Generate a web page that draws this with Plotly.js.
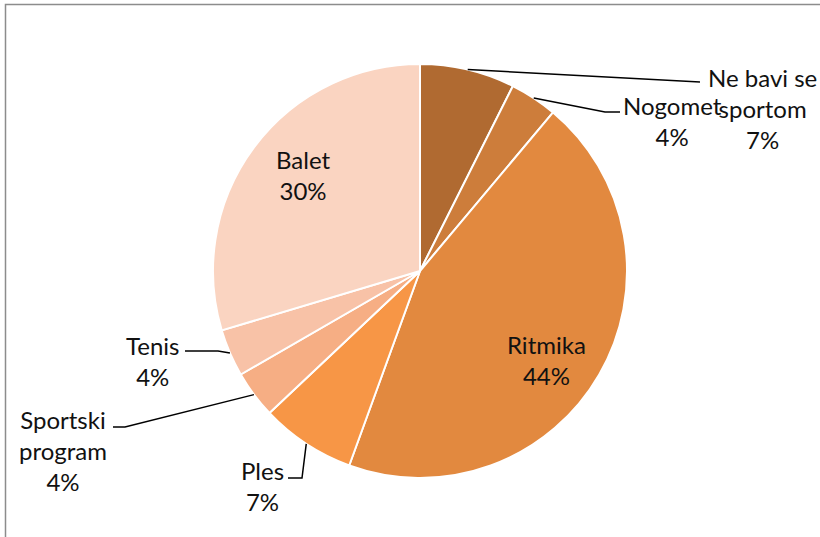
<!DOCTYPE html>
<html>
<head>
<meta charset="utf-8">
<script src="https://cdn.plot.ly/plotly-3.0.1.min.js"></script>
<style>html,body{margin:0;padding:0;background:#fff;}#chart{width:820px;height:537px;}</style>
</head>
<body>
<div id="chart"></div>
<script>
const categories = ["Ne bavi se sportom", "Nogomet", "Ritmika", "Ples", "Sportski program", "Tenis", "Balet"];
const labelTexts = ["Ne bavi se<br>sportom<br>7%", "Nogomet<br>4%", "Ritmika<br>44%", "Ples<br>7%", "Sportski<br>program<br>4%", "Tenis<br>4%", "Balet<br>30%"];
const values = [2, 1, 12, 2, 1, 1, 8];
const colors = ["#B06A31", "#CD7D3B", "#E2893F", "#F79646", "#F6AE84", "#F8C2A7", "#FAD4C1"];

const W = 820, H = 537;
const cx = 420, cy = 271, R = 207;
const dom = {x: [(cx - R) / W, (cx + R) / W], y: [1 - (cy + R) / H, 1 - (cy - R) / H]};

// label layout: [centerX, centerY, elbowX, elbowY, endX, endY] in pixels (null = inside label)
const labelPos = [
  [762, 108, null, null, 700, 82],
  [672, 121, 605, 112, 620, 112],
  [546, 360],
  [262, 486, 302, 478, 288, 478],
  [63, 450, 125, 427, 113, 427],
  [152, 361, 218, 351, 185, 351],
  [303, 175]
];

const total = values.reduce((a, b) => a + b, 0);
const px = x => x / W, py = y => 1 - y / H;
const annotations = [], shapes = [];
let cum = 0;
values.forEach((v, i) => {
  const mid = (cum + v / 2) / total * 2 * Math.PI;
  cum += v;
  const p = labelPos[i];
  annotations.push({
    x: px(p[0]), y: py(p[1]), xref: 'paper', yref: 'paper', showarrow: false,
    xanchor: 'center', yanchor: 'middle',
    text: labelTexts[i], align: 'center',
    font: {family: 'Lato, "Liberation Sans", sans-serif', size: 24, color: '#111'}
  });
  if (p.length > 2) {
    const sx = cx + R * Math.sin(mid), sy = cy - R * Math.cos(mid);
    let path = `M ${px(sx)} ${py(sy)}`;
    if (p[2] !== null) path += ` L ${px(p[2])} ${py(p[3])}`;
    path += ` L ${px(p[4])} ${py(p[5])}`;
    shapes.push({type: 'path', xref: 'paper', yref: 'paper', path: path, line: {color: '#000', width: 1.5}});
  }
});
// chart border (top & left visible)
shapes.push({type: 'rect', xref: 'paper', yref: 'paper', x0: px(5.5), y0: py(560), x1: px(840), y1: py(4.5), line: {color: '#8c8c8c', width: 1.5}, layer: 'below'});

const data = [{
  type: 'pie', labels: categories, values: values, sort: false, direction: 'clockwise', rotation: 0,
  marker: {colors: colors, line: {color: '#fff', width: 2}},
  textinfo: 'none', hoverinfo: 'label+percent', domain: dom, showlegend: false
}];
const layout = {
  width: W, height: H, margin: {l: 0, r: 0, t: 0, b: 0},
  paper_bgcolor: '#fff', plot_bgcolor: '#fff', showlegend: false,
  annotations: annotations, shapes: shapes
};
Plotly.newPlot('chart', data, layout, {displayModeBar: false});
</script>
</body>
</html>
